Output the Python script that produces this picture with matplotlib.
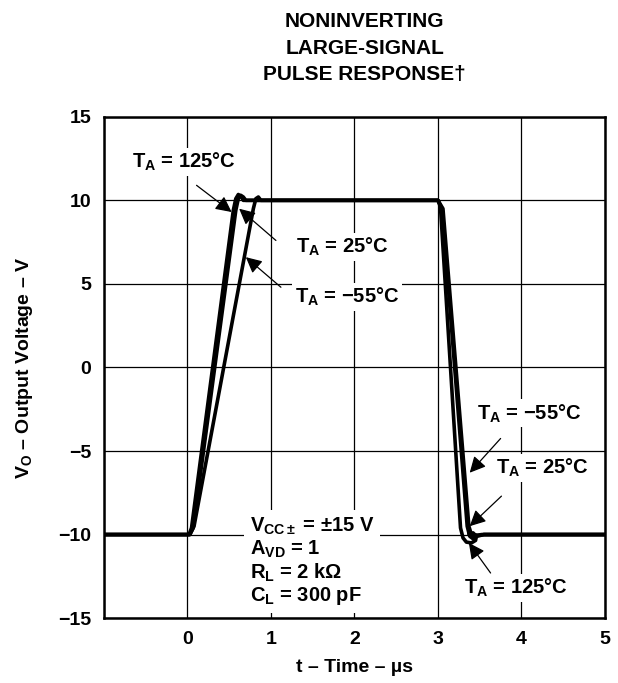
import matplotlib.pyplot as plt

plt.rcParams['font.family'] = ['Liberation Sans', 'DejaVu Sans']
plt.rcParams['font.weight'] = 'bold'
plt.rcParams['mathtext.fontset'] = 'custom'
plt.rcParams['mathtext.rm'] = 'Liberation Sans:bold'
plt.rcParams['mathtext.it'] = 'Liberation Sans:bold'
plt.rcParams['mathtext.bf'] = 'Liberation Sans:bold'

# traces (time in us, output in V)
t_125 = [-1.0, 0.02, 0.05, 0.55, 0.58, 0.61, 0.64, 0.67, 3.0, 3.03, 3.27, 3.30,
         3.34, 3.40, 3.45, 3.46, 3.42, 3.37, 3.41, 3.52, 5.0]
v_125 = [-10.0, -10.0, -9.6, 9.4, 10.1, 10.35, 10.25, 10.0, 10.0, 9.6, -9.6, -10.2,
         -10.45, -10.5, -10.35, -10.1, -9.9, -9.95, -10.1, -10.0, -10.0]
t_25 = [-1.0, 0.03, 0.07, 0.58, 0.61, 0.64, 0.67, 0.70, 3.0, 3.05, 3.35, 3.38,
        3.42, 3.47, 3.55, 5.0]
v_25 = [-10.0, -10.0, -9.6, 9.4, 10.1, 10.3, 10.2, 10.0, 10.0, 9.5, -9.5, -10.1,
        -10.25, -10.1, -10.0, -10.0]
t_m55 = [-1.0, 0.03, 0.08, 0.79, 0.82, 0.85, 0.88, 3.0, 3.06, 3.37, 3.40, 3.48,
         3.55, 5.0]
v_m55 = [-10.0, -10.0, -9.5, 9.5, 10.1, 10.2, 10.0, 10.0, 9.5, -9.5, -10.0, -10.05,
         -10.0, -10.0]

x_ticks = [0, 1, 2, 3, 4, 5]
y_ticks = [-15, -10, -5, 0, 5, 10, 15]

fig = plt.figure(figsize=(6.18, 6.83), dpi=100)
ax = fig.add_axes([0.168, 0.095, 0.811, 0.734])

for t, v in [(t_m55, v_m55), (t_25, v_25), (t_125, v_125)]:
    ax.plot(t, v, color='black', lw=2.6, solid_joinstyle='round', zorder=3)

ax.set_xlim(-1, 5)
ax.set_ylim(-15, 15)
ax.set_xticks(range(-1, 6))
ax.set_xticklabels([''] + [str(x) for x in x_ticks])
ax.set_yticks(y_ticks)
ax.set_yticklabels([str(y).replace('-', '\u2212') for y in y_ticks])
ax.tick_params(length=0, labelsize=14, pad=9)
for lab in ax.get_xticklabels() + ax.get_yticklabels():
    lab.set_fontweight('bold')
ax.grid(True, color='black', lw=0.9)
for s in ax.spines.values():
    s.set_linewidth(1.8)

box = dict(facecolor='white', edgecolor='none', pad=2)
arr = dict(arrowstyle='-|>', color='black', lw=0.9, mutation_scale=24, shrinkA=0, shrinkB=0)
fs = 14.5

def label(x, y, s):
    ax.text(x, y, s, fontsize=fs, fontweight='bold', va='center', bbox=box, zorder=4)

label(-0.66, 12.3, r'T$_\mathregular{A}$ = 125°C')
ax.annotate('', xy=(0.53, 9.3), xytext=(0.11, 10.9), arrowprops=arr, zorder=4)

label(1.3, 7.2, r'T$_\mathregular{A}$ = 25°C')
ax.annotate('', xy=(0.62, 9.5), xytext=(1.06, 7.6), arrowprops=arr, zorder=4)

label(1.29, 4.2, 'T$_\\mathregular{A}$ = \u221255°C')
ax.annotate('', xy=(0.70, 6.6), xytext=(1.12, 4.8), arrowprops=arr, zorder=4)

label(3.47, -2.75, 'T$_\\mathregular{A}$ = \u221255°C')
ax.annotate('', xy=(3.38, -6.3), xytext=(3.75, -4.25), arrowprops=arr, zorder=4)

label(3.69, -6.0, r'T$_\mathregular{A}$ = 25°C')
ax.annotate('', xy=(3.38, -9.5), xytext=(3.76, -7.7), arrowprops=arr, zorder=4)

label(3.31, -13.2, r'T$_\mathregular{A}$ = 125°C')
ax.annotate('', xy=(3.37, -10.5), xytext=(3.63, -12.3), arrowprops=arr, zorder=4)

cond = ('V$_\\mathregular{CC\\pm}$ = \u00b115 V\n'
        'A$_\\mathregular{VD}$ = 1\n'
        'R$_\\mathregular{L}$ = 2 k\u03a9\n'
        'C$_\\mathregular{L}$ = 300 pF')
ax.text(0.75, -11.6, cond, fontsize=fs, fontweight='bold', va='center', linespacing=1.1,
        bbox=dict(facecolor='white', edgecolor='none', pad=4), zorder=4)

ax.set_xlabel('t \u2013 Time \u2013 \u00b5s', fontsize=14, fontweight='bold', labelpad=8)
ax.set_ylabel('V$_\\mathregular{O}$ \u2013 Output Voltage \u2013 V', fontsize=14,
              fontweight='bold', labelpad=17)

fig.text(0.59, 0.982, 'NONINVERTING\nLARGE-SIGNAL\nPULSE RESPONSE\u2020', fontsize=15,
         fontweight='bold', ha='center', va='top', linespacing=1.5)

fig.savefig('out.png', dpi=100)
